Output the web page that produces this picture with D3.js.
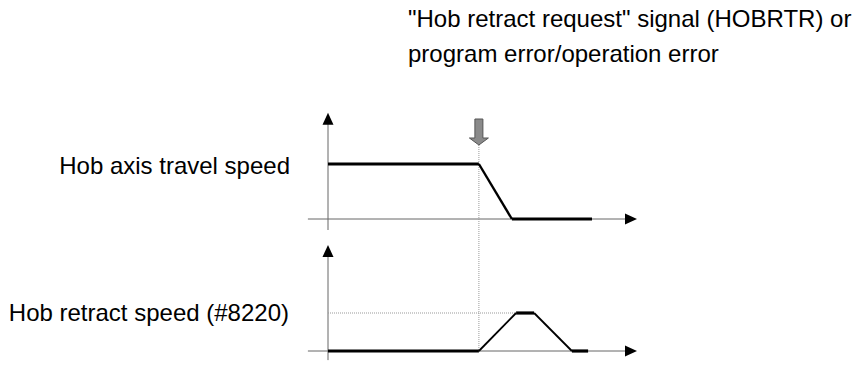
<!DOCTYPE html>
<html><head><meta charset="utf-8">
<script src="https://cdn.jsdelivr.net/npm/d3@7"></script>
<style>html,body{margin:0;padding:0;background:#fff;}svg{display:block;}</style>
</head><body>
<svg id="chart" width="852" height="367"></svg>
<script>
// ---- data (time in arbitrary units, speeds normalised) ----
const eventTime = 5.03;
const annotationLines = ['"Hob retract request" signal (HOBRTR) or', 'program error/operation error'];
const panelLabels = ['Hob axis travel speed', 'Hob retract speed (#8220)'];
const travelTime  = [0, 5.03, 6.13, 8.8];
const travelSpeed = [1, 1, 0, 0];
const retractTime  = [0, 5.03, 6.27, 6.87, 8.13, 8.67];
const retractSpeed = [0, 0, 1, 1, 0, 0];
const retractLevel = 1;

const svg = d3.select('#chart');
const font = '"Liberation Sans", Arial, sans-serif';

const x = d3.scaleLinear().domain([0, 10]).range([328, 628]);
const yTop = d3.scaleLinear().domain([0, 1]).range([219, 164]);
const yBot = d3.scaleLinear().domain([0, 1]).range([351, 313]);

const axisColor = '#666';
const xAxisStart = -0.67, xAxisEnd = 10.3;

function drawAxes(y, yTopVal, yBotVal) {
  svg.append('line').attr('x1', x(xAxisStart)).attr('x2', x(xAxisEnd) - 10)
    .attr('y1', y(0)).attr('y2', y(0)).attr('stroke', axisColor).attr('stroke-width', 1);
  const xt = x(xAxisEnd), y0 = y(0);
  svg.append('path').attr('d', `M${xt},${y0} L${xt-12},${y0-5.5} L${xt-12},${y0+5.5} Z`).attr('fill', '#000');
  svg.append('line').attr('x1', x(0)).attr('x2', x(0))
    .attr('y1', y(yTopVal) + 10).attr('y2', y(yBotVal)).attr('stroke', axisColor).attr('stroke-width', 1);
  const yt = y(yTopVal), x0 = x(0);
  svg.append('path').attr('d', `M${x0},${yt} L${x0-5.5},${yt+12} L${x0+5.5},${yt+12} Z`).attr('fill', '#000');
}
drawAxes(yTop, 1.93, -0.2);
drawAxes(yBot, 2.79, -0.24);

// dotted guides
svg.append('line').attr('x1', x(eventTime)).attr('x2', x(eventTime))
  .attr('y1', 145).attr('y2', yBot(0)).attr('stroke', '#999').attr('stroke-width', 1).attr('stroke-dasharray', '1,1');
svg.append('line').attr('x1', x(0)).attr('x2', x(retractTime[2]))
  .attr('y1', yBot(retractLevel)).attr('y2', yBot(retractLevel)).attr('stroke', '#999').attr('stroke-width', 1).attr('stroke-dasharray', '1,1');

function drawSeries(ts, vs, y, slopeW) {
  for (let i = 0; i < ts.length - 1; i++) {
    const flat = vs[i] === vs[i+1];
    svg.append('line').attr('x1', x(ts[i])).attr('y1', y(vs[i]))
      .attr('x2', x(ts[i+1])).attr('y2', y(vs[i+1]))
      .attr('stroke', '#000').attr('stroke-width', flat ? 3.2 : slopeW)
      .attr('stroke-linecap', 'butt');
  }
}
drawSeries(travelTime, travelSpeed, yTop, 2.4);
drawSeries(retractTime, retractSpeed, yBot, 1.8);

// grey block arrow for the signal
const ax = x(eventTime);
svg.append('path')
  .attr('d', `M${ax-4},119 L${ax+4},119 L${ax+4},138 L${ax+9.5},138 L${ax},145 L${ax-9.5},138 L${ax-4},138 Z`)
  .attr('fill', '#8a8a8a').attr('stroke', '#555').attr('stroke-width', 1);

// texts
const fs = 24;
svg.append('text').attr('x', 408).attr('y', 27).attr('font-family', font).attr('font-size', fs).attr('fill', '#000').text(annotationLines[0]);
svg.append('text').attr('x', 408).attr('y', 62).attr('font-family', font).attr('font-size', fs).attr('fill', '#000').text(annotationLines[1]);
svg.append('text').attr('x', 290).attr('y', 174).attr('text-anchor', 'end').attr('font-family', font).attr('font-size', fs).attr('fill', '#000').text(panelLabels[0]);
svg.append('text').attr('x', 289).attr('y', 321).attr('text-anchor', 'end').attr('font-family', font).attr('font-size', fs).attr('fill', '#000').text(panelLabels[1]);
</script>
</body></html>
